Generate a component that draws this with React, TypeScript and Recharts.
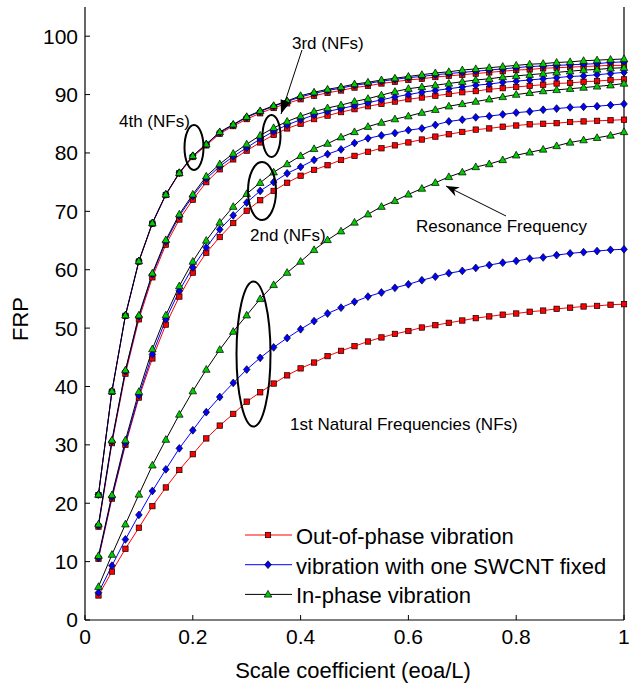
import { LineChart, Line, XAxis, YAxis, Legend } from 'recharts';

const FONT = '"Liberation Sans", Arial, Helvetica, sans-serif';

// scale coefficient e0a/L
const xs = [
  0.025, 0.05, 0.075, 0.1, 0.125, 0.15, 0.175, 0.2, 0.225, 0.25,
  0.275, 0.3, 0.325, 0.35, 0.375, 0.4, 0.425, 0.45, 0.475, 0.5,
  0.525, 0.55, 0.575, 0.6, 0.625, 0.65, 0.675, 0.7, 0.725, 0.75,
  0.775, 0.8, 0.825, 0.85, 0.875, 0.9, 0.925, 0.95, 0.975, 1.0,
];

// 1st NFs
const out1 = [
  4.2, 8.3, 12.2, 15.8, 19.5, 22.7, 25.7, 28.4, 31.1, 33.3,
  35.3, 37.4, 39.0, 40.5, 41.9, 43.1, 44.1, 45.2, 46.1, 46.9,
  47.7, 48.4, 49.0, 49.5, 50.1, 50.5, 50.9, 51.3, 51.7, 52.0,
  52.3, 52.5, 52.8, 53.0, 53.3, 53.5, 53.7, 53.8, 54.0, 54.1,
];
const fix1 = [
  4.7, 9.3, 13.8, 18.0, 22.1, 25.8, 29.4, 32.5, 35.6, 38.2,
  40.6, 42.9, 44.9, 46.7, 48.3, 49.8, 51.2, 52.5, 53.5, 54.5,
  55.4, 56.1, 56.9, 57.5, 58.2, 58.8, 59.4, 59.8, 60.3, 60.8,
  61.2, 61.5, 61.9, 62.1, 62.5, 62.8, 63.0, 63.2, 63.4, 63.5,
];
const in1 = [
  5.7, 11.2, 16.4, 21.5, 26.5, 30.9, 35.2, 39.2, 42.9, 46.3,
  49.4, 52.2, 55.0, 57.4, 59.5, 61.4, 63.4, 65.1, 66.6, 68.1,
  69.5, 70.8, 71.8, 72.9, 73.9, 74.9, 75.9, 76.7, 77.6, 78.1,
  78.8, 79.6, 80.1, 80.6, 81.2, 81.8, 82.2, 82.6, 83.0, 83.6,
];

// 2nd NFs
const out2 = [
  10.5, 20.8, 30.0, 38.1, 44.8, 50.6, 55.4, 59.5, 62.9, 65.6,
  68.0, 70.1, 71.9, 73.5, 74.9, 76.1, 77.1, 77.9, 78.8, 79.5,
  80.2, 80.8, 81.3, 81.8, 82.3, 82.8, 83.2, 83.6, 84.0, 84.2,
  84.5, 84.7, 84.9, 85.0, 85.1, 85.3, 85.4, 85.5, 85.6, 85.7,
];
const fix2 = [
  10.7, 21.1, 30.3, 38.5, 45.5, 51.5, 56.4, 60.4, 63.8, 66.9,
  69.3, 71.5, 73.5, 75.0, 76.5, 77.6, 78.8, 79.8, 80.6, 81.7,
  82.5, 83.0, 83.4, 83.9, 84.2, 84.8, 85.4, 85.7, 86.1, 86.3,
  86.6, 86.9, 87.1, 87.4, 87.6, 87.8, 87.9, 88.0, 88.2, 88.4,
];
const in2 = [
  11.0, 21.4, 30.8, 39.1, 46.4, 52.2, 57.2, 61.4, 65.0, 68.1,
  70.8, 73.0, 74.9, 76.7, 78.1, 79.5, 80.7, 81.6, 82.7, 83.6,
  84.5, 85.2, 85.8, 86.3, 86.9, 87.4, 88.0, 88.4, 88.8, 89.2,
  89.6, 90.0, 90.3, 90.6, 90.8, 91.0, 91.2, 91.4, 91.6, 91.9,
];

// 3rd NFs
const out3 = [
  16.0, 30.3, 42.2, 51.5, 58.7, 64.3, 68.6, 72.0, 75.0, 77.2,
  78.9, 80.4, 81.8, 83.1, 84.2, 85.0, 85.8, 86.4, 87.0, 87.5,
  88.0, 88.4, 88.8, 89.2, 89.5, 89.8, 90.1, 90.4, 90.6, 90.9,
  91.1, 91.3, 91.5, 91.7, 91.9, 92.0, 92.2, 92.3, 92.5, 92.6,
];
const fix3 = [
  16.2, 30.6, 42.6, 52.0, 59.2, 64.8, 69.2, 72.6, 75.6, 77.7,
  79.4, 80.9, 82.4, 83.7, 84.8, 85.7, 86.5, 87.1, 87.6, 88.1,
  88.6, 89.1, 89.6, 90.0, 90.4, 90.7, 91.0, 91.3, 91.6, 91.8,
  92.1, 92.3, 92.5, 92.7, 92.9, 93.1, 93.2, 93.4, 93.6, 93.8,
];
const in3 = [
  16.4, 30.8, 42.8, 52.2, 59.4, 65.1, 69.5, 72.9, 76.0, 78.1,
  79.9, 81.5, 83.0, 84.3, 85.4, 86.3, 87.1, 87.7, 88.2, 88.8,
  89.3, 89.9, 90.5, 91.0, 91.3, 91.6, 91.9, 92.2, 92.5, 92.7,
  93.0, 93.2, 93.4, 93.6, 93.8, 94.0, 94.2, 94.3, 94.5, 94.6,
];

// 4th NFs
const out4 = [
  21.4, 39.1, 52.1, 61.4, 67.9, 72.8, 76.5, 79.3, 81.3, 83.3,
  84.6, 85.8, 86.8, 87.7, 88.5, 89.2, 89.8, 90.3, 90.7, 91.2,
  91.5, 91.9, 92.2, 92.5, 92.7, 93.0, 93.2, 93.4, 93.6, 93.8,
  94.0, 94.2, 94.3, 94.5, 94.6, 94.7, 94.8, 94.9, 95.0, 95.0,
];
const fix4 = [
  21.5, 39.2, 52.2, 61.5, 68.0, 72.9, 76.6, 79.5, 81.5, 83.5,
  84.8, 86.1, 87.1, 88.0, 88.8, 89.6, 90.2, 90.7, 91.1, 91.6,
  91.9, 92.3, 92.6, 92.9, 93.1, 93.4, 93.6, 93.8, 94.0, 94.2,
  94.4, 94.6, 94.8, 94.9, 95.0, 95.1, 95.2, 95.3, 95.5, 95.6,
];
const in4 = [
  21.5, 39.2, 52.2, 61.5, 68.0, 72.9, 76.6, 79.5, 81.5, 83.6,
  84.9, 86.2, 87.2, 88.1, 88.9, 89.8, 90.4, 90.9, 91.3, 91.8,
  92.1, 92.5, 92.8, 93.1, 93.4, 93.7, 93.9, 94.2, 94.4, 94.6,
  94.8, 95.0, 95.2, 95.3, 95.5, 95.6, 95.8, 95.9, 96.0, 96.1,
];

const xTicks = [0, 0.2, 0.4, 0.6, 0.8, 1];
const yTicks = [0, 10, 20, 30, 40, 50, 60, 70, 80, 90, 100];

const legendNames = [
  'Out-of-phase vibration',
  'vibration with one SWCNT fixed',
  'In-phase vibration',
];

const rows = xs.map((x, i) => ({
  x,
  r1: out1[i], b1: fix1[i], g1: in1[i],
  r2: out2[i], b2: fix2[i], g2: in2[i],
  r3: out3[i], b3: fix3[i], g3: in3[i],
  r4: out4[i], b4: fix4[i], g4: in4[i],
}));

function marker(shape: string, cx: number, cy: number, key?: any) {
  if (shape === 'square') {
    return <rect key={key} x={cx - 2.7} y={cy - 2.7} width={5.4} height={5.4} fill="#ff0000" stroke="#000" strokeWidth={0.7} />;
  }
  if (shape === 'diamond') {
    return (
      <polygon
        key={key}
        points={`${cx},${cy - 3.9} ${cx + 3.3},${cy} ${cx},${cy + 3.9} ${cx - 3.3},${cy}`}
        fill="#0000ff"
        stroke="#000"
        strokeWidth={0.7}
      />
    );
  }
  return (
    <polygon
      key={key}
      points={`${cx},${cy - 4} ${cx + 3.8},${cy + 2.7} ${cx - 3.8},${cy + 2.7}`}
      fill="#00cc00"
      stroke="#000"
      strokeWidth={0.7}
    />
  );
}

const dotFor = (shape: string) => (props: any) => {
  const { cx, cy, index } = props;
  if (cx == null || cy == null) return <g key={index} />;
  return marker(shape, cx, cy, index);
};

const squareDot = dotFor('square');
const diamondDot = dotFor('diamond');
const triangleDot = dotFor('triangle');

const series = [
  { key: 'r', color: '#ff0000', dot: squareDot },
  { key: 'b', color: '#0000ff', dot: diamondDot },
  { key: 'g', color: '#000000', dot: triangleDot },
];

function LegendBox() {
  const shapes = ['square', 'diamond', 'triangle'];
  const colors = ['#ff0000', '#0000ff', '#000000'];
  return (
    <svg width={380} height={96} style={{ display: 'block' }}>
      {legendNames.map((name, i) => {
        const y = 15 + i * 29.7;
        return (
          <g key={name}>
            <line x1={5} x2={52} y1={y} y2={y} stroke={colors[i]} strokeWidth={1} />
            {marker(shapes[i], 28, y)}
            <text x={56} y={y + 9} fontSize={22} fontFamily={FONT} fill="#000">
              {name}
            </text>
          </g>
        );
      })}
    </svg>
  );
}

const tickStyle = { fill: '#000', fontSize: 21, fontFamily: FONT };

export default function App() {
  return (
    <div style={{ position: 'absolute', left: 0, top: 0, width: 629, height: 686, background: '#fff' }}>
      <LineChart width={629} height={686} data={rows} margin={{ top: 7, right: 0, bottom: 0, left: 0 }}>
        <XAxis
          dataKey="x"
          type="number"
          domain={[0, 1]}
          ticks={xTicks}
          height={66}
          tickSize={-5}
          tickMargin={14}
          axisLine={{ stroke: '#000', strokeWidth: 1.2 }}
          tickLine={{ stroke: '#000' }}
          tick={tickStyle}
        />
        <XAxis
          xAxisId="top"
          orientation="top"
          type="number"
          domain={[0, 1]}
          ticks={xTicks}
          height={0}
          tickSize={-5}
          tick={false}
          axisLine={{ stroke: '#000', strokeWidth: 1.2 }}
          tickLine={{ stroke: '#000' }}
        />
        <YAxis
          type="number"
          domain={[0, 105]}
          ticks={yTicks}
          width={85}
          tickSize={-5}
          tickMargin={12}
          axisLine={{ stroke: '#000', strokeWidth: 1.2 }}
          tickLine={{ stroke: '#000' }}
          tick={tickStyle}
        />
        <YAxis
          yAxisId="right"
          orientation="right"
          type="number"
          domain={[0, 105]}
          ticks={yTicks}
          width={5}
          tickSize={-5}
          tick={false}
          axisLine={{ stroke: '#000', strokeWidth: 1.2 }}
          tickLine={{ stroke: '#000' }}
        />
        {series.map((s) =>
          [1, 2, 3, 4].map((m) => (
            <Line
              key={`${s.key}${m}`}
              dataKey={`${s.key}${m}`}
              type="linear"
              stroke={s.color}
              strokeWidth={1}
              dot={s.dot}
              activeDot={false}
              legendType="none"
              isAnimationActive={false}
            />
          ))
        )}
        <Legend
          layout="horizontal"
          verticalAlign="middle"
          align="center"
          content={() => <LegendBox />}
          wrapperStyle={{ left: 240, top: 520, width: 380, height: 96 }}
        />
      </LineChart>
      <svg
        width={629}
        height={686}
        style={{ position: 'absolute', left: 0, top: 0, pointerEvents: 'none' }}
        fontFamily={FONT}
      >
        <defs>
          <marker id="ah" markerWidth={14} markerHeight={10} refX={14} refY={5} orient="auto" markerUnits="userSpaceOnUse">
            <path d="M0,0 L14,5 L0,10 z" fill="#000" />
          </marker>
          <marker id="ah2" markerWidth={13} markerHeight={10} refX={13} refY={5} orient="auto" markerUnits="userSpaceOnUse">
            <path d="M0,0 L13,5 L0,10 L4,5 z" fill="#000" />
          </marker>
        </defs>
        <text transform="translate(28,319) rotate(-90)" textAnchor="middle" fontSize={22} fill="#000">FRP</text>
        <text x={353} y={678} textAnchor="middle" fontSize={22} fill="#000">Scale coefficient (eoa/L)</text>

        <text x={292} y={49} fontSize={17} fill="#000">3rd (NFs)</text>
        <text x={119} y={127} fontSize={17} fill="#000">4th (NFs)</text>
        <text x={250} y={241} fontSize={17} fill="#000">2nd (NFs)</text>
        <text x={416} y={232} fontSize={17} fill="#000">Resonance Frequency</text>
        <text x={290} y={430} fontSize={17} fill="#000">1st Natural Frequencies (NFs)</text>

        <line x1={302} y1={50} x2={281} y2={114} stroke="#000" strokeWidth={1} markerEnd="url(#ah)" />
        <line x1={506} y1={216} x2={446} y2={186} stroke="#000" strokeWidth={1} markerEnd="url(#ah2)" />

        <ellipse cx={194} cy={147.5} rx={9.5} ry={22.5} fill="none" stroke="#000" strokeWidth={2} />
        <ellipse cx={271.5} cy={136} rx={9} ry={21} fill="none" stroke="#000" strokeWidth={2} />
        <ellipse cx={262} cy={191} rx={14} ry={29} fill="none" stroke="#000" strokeWidth={2} />
        <ellipse cx={253.5} cy={354} rx={17} ry={72.5} fill="none" stroke="#000" strokeWidth={2} />
      </svg>
    </div>
  );
}
